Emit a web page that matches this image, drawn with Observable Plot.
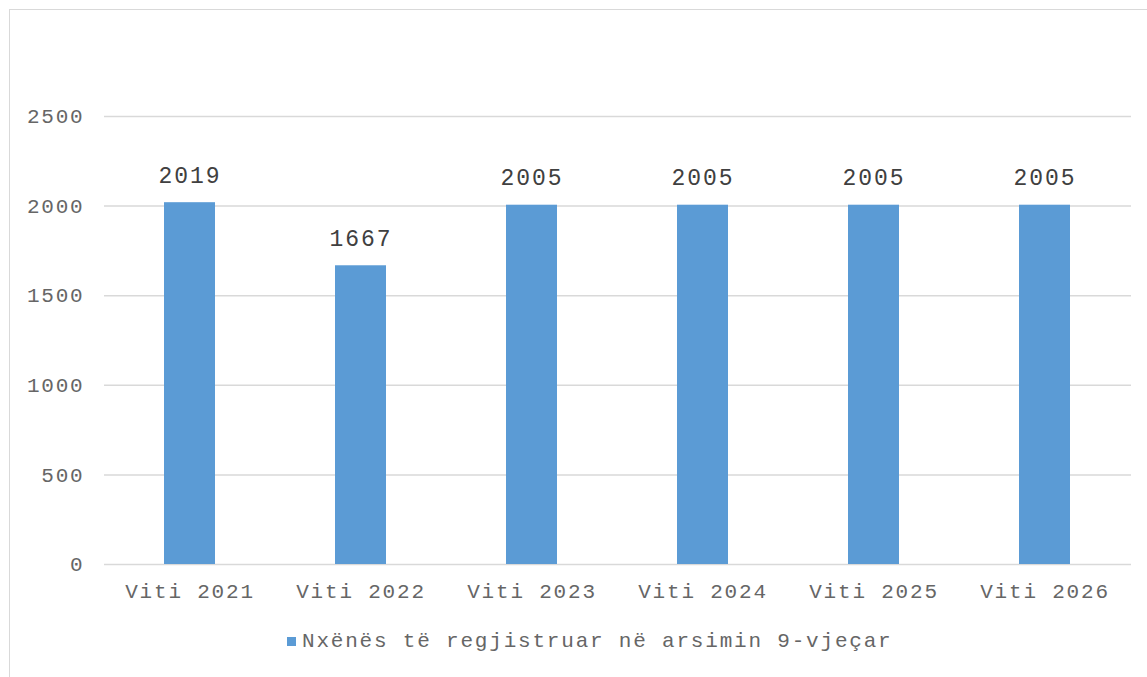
<!DOCTYPE html>
<html>
<head>
<meta charset="utf-8">
<script src="https://cdn.jsdelivr.net/npm/d3@7"></script>
<script src="https://cdn.jsdelivr.net/npm/@observablehq/plot@0.6"></script>
<style>
  html, body { margin: 0; padding: 0; background: #fff; width: 1147px; height: 677px; overflow: hidden; }
  #wrap { position: relative; width: 1147px; height: 677px; }
  #frame { position: absolute; left: 9px; top: 9px; width: 1200px; height: 700px;
           border-left: 1px solid #d9d9d9; border-top: 1px solid #d9d9d9; box-sizing: border-box; }
  #chart { position: absolute; left: 0; top: 0; }
  #legend { position: absolute; left: 0; top: 628px; width: 1147px; height: 28px;
            font-family: "Liberation Mono", monospace; font-size: 21px; letter-spacing: 1.8px; color: #666666; }
  #legend .sw { position: absolute; left: 287px; top: 9px; width: 9px; height: 9px; background: #5b9bd5; }
  #legend .lb { position: absolute; left: 302px; top: 0px; white-space: nowrap; line-height: 28px; }
</style>
</head>
<body>
<div id="wrap">
  <div id="frame"></div>
  <div id="chart"></div>
  <div id="legend"><span class="sw"></span><span class="lb"></span></div>
</div>
<script>
const categories = ["Viti 2021", "Viti 2022", "Viti 2023", "Viti 2024", "Viti 2025", "Viti 2026"];
const values = [2019, 1667, 2005, 2005, 2005, 2005];
const yTicks = [0, 500, 1000, 1500, 2000, 2500];
const seriesName = "Nxënës të regjistruar në arsimin 9-vjeçar";

const data = categories.map((c, i) => ({category: c, value: values[i]}));

const plot = Plot.plot({
  width: 1147,
  height: 620,
  marginTop: 116,
  marginBottom: 56,
  marginLeft: 104,
  marginRight: 16,
  style: {fontFamily: "Liberation Mono, monospace", background: "transparent"},
  x: {domain: categories, paddingInner: 0.7, paddingOuter: 0.35},
  y: {domain: [0, 2500]},
  marks: [
    Plot.ruleY(yTicks, {stroke: "#d9d9d9", strokeWidth: 1.5}),
    Plot.barY(data, {x: "category", y: "value", fill: "#5b9bd5"}),
    Plot.text(data, {x: "category", y: "value", text: d => String(d.value), lineAnchor: "bottom", dy: -20, fontSize: 23, fill: "#404040"}),
    Plot.axisY({ticks: yTicks, tickFormat: d => String(d), tickSize: 0, tickPadding: 20, fontSize: 21, fill: "#666666", label: null}),
    Plot.axisX({tickSize: 0, tickPadding: 19, fontSize: 21, fill: "#666666", label: null})
  ]
});
document.getElementById("chart").appendChild(plot);
d3.select(plot).selectAll('g[aria-label="y-axis tick label"] text, g[aria-label="x-axis tick label"] text').attr("letter-spacing", "1.8px");
d3.select(plot).selectAll('g[aria-label="text"] text').attr("letter-spacing", "2px");
document.querySelector("#legend .lb").textContent = seriesName;
</script>
</body>
</html>
